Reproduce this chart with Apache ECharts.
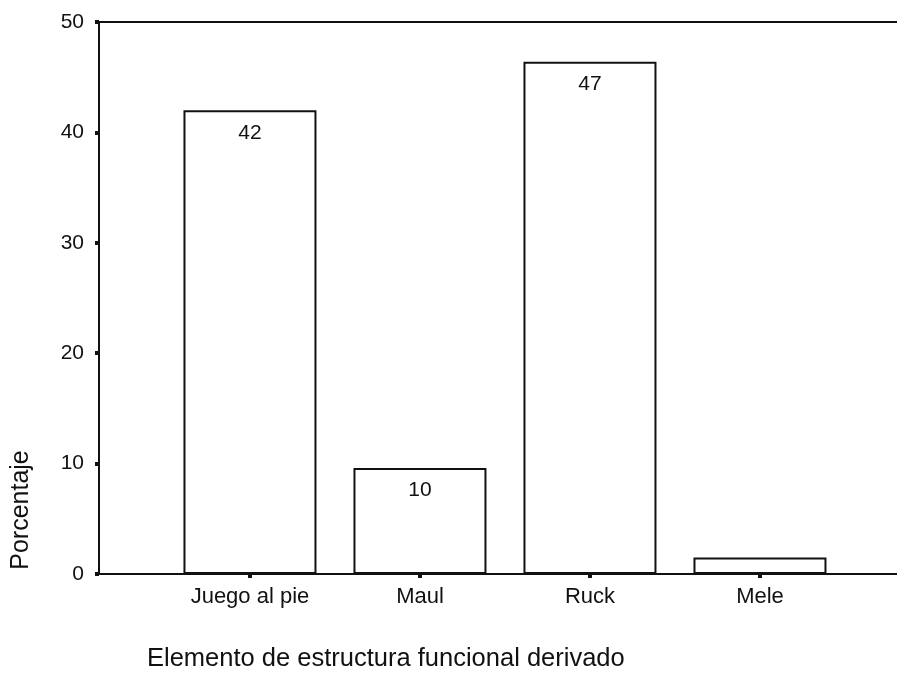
<!DOCTYPE html>
<html>
<head>
<meta charset="utf-8">
<script src="https://cdn.jsdelivr.net/npm/echarts@6/dist/echarts.min.js"></script>
<style>
  html, body { margin: 0; padding: 0; background: #fff; }
  #chart { width: 897px; height: 678px; }
</style>
</head>
<body>
<div id="chart"></div>
<script>
const categories = ['Juego al pie', 'Maul', 'Ruck', 'Mele'];
const percentages = [42.0, 9.6, 46.4, 1.5];
const barLabels = ['42', '10', '47', ''];
const yTicks = [0, 10, 20, 30, 40, 50];
const catPositions = [1, 2, 3, 4];

const FONT = 'Liberation Sans, Arial, sans-serif';
const INK = '#111';

const chart = echarts.init(document.getElementById('chart'), null, { renderer: 'canvas' });

const option = {
  backgroundColor: '#fff',
  animation: false,
  title: {
    text: 'Elemento de estructura funcional derivado',
    left: 142,
    top: 641,
    textStyle: { fontFamily: FONT, fontSize: 25.5, fontWeight: 'normal', color: INK }
  },
  graphic: [
    {
      type: 'text',
      x: 9,
      y: 510,
      rotation: Math.PI / 2,
      style: {
        text: 'Porcentaje',
        font: '25px ' + FONT,
        fill: INK,
        align: 'center',
        verticalAlign: 'top'
      }
    }
  ],
  grid: { left: 99, right: 0, top: 22, bottom: 104 },
  xAxis: [
    {
      type: 'value',
      min: 0.112,
      max: 4.806,
      splitLine: { show: false },
      axisLine: { show: true, onZero: false, lineStyle: { color: INK, width: 2 } },
      axisTick: { show: true, customValues: catPositions, length: 4, lineStyle: { color: INK, width: 4 } },
      axisLabel: {
        customValues: catPositions,
        formatter: v => categories[Math.round(v) - 1] || '',
        margin: 12,
        fontFamily: FONT,
        fontSize: 22,
        color: INK
      }
    },
    {
      type: 'value',
      position: 'top',
      min: 0.112,
      max: 4.806,
      splitLine: { show: false },
      axisLine: { show: true, onZero: false, lineStyle: { color: INK, width: 2 } },
      axisTick: { show: false },
      axisLabel: { show: false }
    }
  ],
  yAxis: {
    type: 'value',
    min: 0,
    max: 50,
    interval: 10,
    splitLine: { show: false },
    axisLine: { show: true, lineStyle: { color: INK, width: 2 } },
    axisTick: { show: true, length: 4, lineStyle: { color: INK, width: 4 } },
    axisLabel: {
      customValues: yTicks,
      margin: 15,
      fontFamily: FONT,
      fontSize: 21,
      color: INK
    }
  },
  series: [
    {
      type: 'bar',
      xAxisIndex: 0,
      barWidth: 133,
      data: percentages.map((v, i) => [catPositions[i], v]),
      itemStyle: { color: '#fff', borderColor: INK, borderWidth: 2 },
      label: {
        show: true,
        position: 'insideTop',
        distance: 12,
        formatter: p => barLabels[p.dataIndex],
        fontFamily: FONT,
        fontSize: 21,
        color: INK
      }
    }
  ]
};

chart.setOption(option);
</script>
</body>
</html>
